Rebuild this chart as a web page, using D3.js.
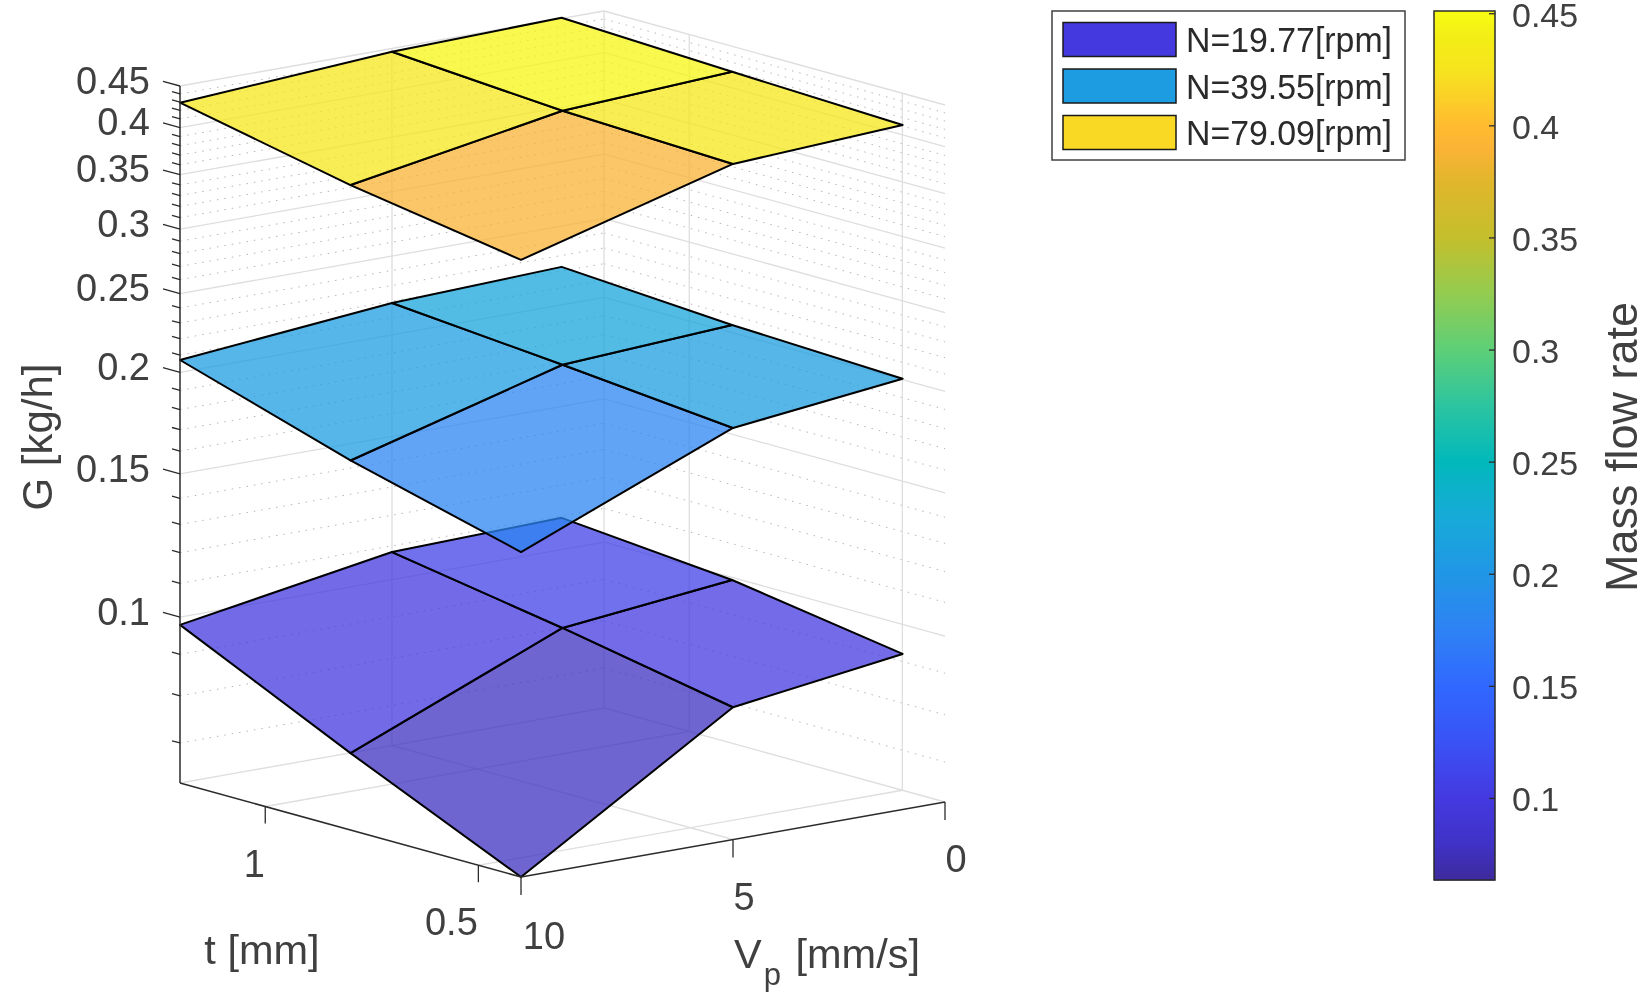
<!DOCTYPE html>
<html>
<head>
<meta charset="utf-8">
<script src="https://cdn.jsdelivr.net/npm/d3@7"></script>
<style>
  html, body { margin: 0; padding: 0; background: #fff; }
  svg { display: block; filter: blur(0.4px); }
  text { font-family: "Liberation Sans", Arial, sans-serif; fill: #404040; }
</style>
</head>
<body>
<script>
  var tValues = [0.4, 0.8, 1.2];
  var vpValues = [10, 5, 1];

  // G [kg/h], rows follow tValues, columns follow vpValues
  var gLow = [
    [0.0625, 0.0909, 0.0971],
    [0.0777, 0.0996, 0.1048],
    [0.0978, 0.1081, 0.1094]
  ];
  var gMid = [
    [0.1569, 0.2005, 0.2117],
    [0.1780, 0.2099, 0.2158],
    [0.2071, 0.2189, 0.2227]
  ];
  var gHigh = [
    [0.3589, 0.4235, 0.4343],
    [0.3883, 0.4309, 0.4421],
    [0.4292, 0.4458, 0.4510]
  ];
  var surfaces = [gLow, gMid, gHigh];

  var legendLabels = ["N=19.77[rpm]", "N=39.55[rpm]", "N=79.09[rpm]"];
  var legendValues = [0.0996, 0.2071, 0.418];

  var gMajor = [0.1, 0.15, 0.2, 0.25, 0.3, 0.35, 0.4, 0.45];
  var gMinor = [0.07, 0.08, 0.09, 0.11, 0.12, 0.13, 0.14, 0.16, 0.17, 0.18, 0.19,
    0.21, 0.22, 0.23, 0.24, 0.26, 0.27, 0.28, 0.29, 0.31, 0.32, 0.33, 0.34,
    0.36, 0.37, 0.38, 0.39, 0.41, 0.42, 0.43, 0.44];
  var tTicks = [0.5, 1];
  var vpTicks = [0, 5, 10];
  var colorbarTicks = [0.1, 0.15, 0.2, 0.25, 0.3, 0.35, 0.4, 0.45];

  var colorStops = [0.0625, 0.08, 0.1, 0.125, 0.15, 0.175, 0.2, 0.225, 0.25, 0.275, 0.3, 0.325, 0.35, 0.375, 0.39, 0.4, 0.425, 0.44, 0.451];
  var colorValues = ["#3e2a9a", "#3f32c6", "#4439e0", "#3a52f5", "#3068ff", "#2e82f4", "#2196e6", "#17aad8", "#02b8bc",
    "#2cc4a0", "#5dcf78", "#93cc50", "#c4bf2c", "#e0b62c", "#fcb335", "#ffbb30", "#f6e41e", "#f3ee15", "#f8fb14"];

  var color = d3.scaleLinear().domain(colorStops).range(colorValues);

  var width = 1651, height = 993;
  var svg = d3.select("body").append("svg")
    .attr("width", width)
    .attr("height", height);

  // box corners on the floor, oblique projection
  var front = [521, 877], tEdge = [-341, -94], vpEdge = [424, -75];
  var tPos = d3.scaleLinear().domain([0.4, 1.2]).range([0, 1]);
  var vpPos = d3.scaleLinear().domain([10, 0]).range([0, 1]);
  var gPos = d3.scaleLog().domain([0.0625, 0.45]).range([0, 697]);

  function project(t, vp, g){
    var a = tPos(t), b = vpPos(vp);
    return [
      front[0] + a * tEdge[0] + b * vpEdge[0],
      front[1] + a * tEdge[1] + b * vpEdge[1] - (g === undefined ? 0 : gPos(g))
    ];
  }

  function segment(sel, p, q, stroke, sw, dash){
    sel.append("line")
      .attr("x1", p[0]).attr("y1", p[1])
      .attr("x2", q[0]).attr("y2", q[1])
      .attr("stroke", stroke)
      .attr("stroke-width", sw)
      .attr("stroke-dasharray", dash || null);
  }

  function draw_grid(){
    var g = svg.append("g").attr("id", "grid");
    var solid = "#dedede", dots = "#b4b4b4";
    gMinor.forEach(function(v){
      segment(g, project(1.2, 10, v), project(1.2, 0, v), dots, 1, "1.5 6");
      segment(g, project(1.2, 0, v), project(0.4, 0, v), dots, 1, "1.5 6");
    });
    gMajor.forEach(function(v){
      segment(g, project(1.2, 10, v), project(1.2, 0, v), solid, 1.3);
      segment(g, project(1.2, 0, v), project(0.4, 0, v), solid, 1.3);
    });
    //floor lines and the verticals on the two back walls
    tTicks.forEach(function(t){
      segment(g, project(t, 10), project(t, 0), solid, 1.3);
      segment(g, project(t, 0), project(t, 0, 0.45), solid, 1.3);
    });
    segment(g, project(1.2, 0), project(1.2, 0, 0.45), solid, 1.3);
    segment(g, project(1.2, 5), project(0.4, 5), solid, 1.3);
    segment(g, project(1.2, 5), project(1.2, 5, 0.45), solid, 1.3);
    segment(g, project(1.2, 10), project(1.2, 0), solid, 1.3);
    segment(g, project(1.2, 0), project(0.4, 0), solid, 1.3);
  }

  function draw_surface(rows){
    var g = svg.append("g").attr("class", "surface");
    var cells = [];
    for(var i = 0; i < tValues.length - 1; i++){
      for(var j = 0; j < vpValues.length - 1; j++){
        cells.push({i: i, j: j});
      }
    }
    g.selectAll("path")
      .data(cells)
      .enter().append("path")
      .attr("d", function(d){
        var pts = [[d.i, d.j], [d.i + 1, d.j], [d.i + 1, d.j + 1], [d.i, d.j + 1]];
        return d3.line()(pts.map(function(c){
          return project(tValues[c[0]], vpValues[c[1]], rows[c[0]][c[1]]);
        })) + "Z";
      })
      //flat shading takes the colour of one corner of each facet
      .attr("fill", function(d){ return color(rows[d.i + 1][d.j]); })
      .attr("fill-opacity", 0.75)
      .attr("stroke", "#000")
      .attr("stroke-width", 2)
      .attr("stroke-linejoin", "round");
  }

  function draw_axes(){
    var g = svg.append("g").attr("id", "axes");
    var ink = "#2b2b2b";
    segment(g, project(1.2, 10), project(0.4, 10), ink, 1.5);
    segment(g, project(0.4, 10), project(0.4, 0), ink, 1.5);
    segment(g, project(1.2, 10), project(1.2, 10, 0.45), ink, 1.5);

    gMajor.forEach(function(v){
      var p = project(1.2, 10, v);
      segment(g, p, [p[0] - 17, p[1] - 4.7], ink, 1.3);
      g.append("text")
        .attr("x", p[0] - 30)
        .attr("y", p[1] - 6)
        .attr("dy", "0.36em")
        .attr("text-anchor", "end")
        .attr("font-size", 38)
        .text(v);
    });
    gMinor.forEach(function(v){
      var p = project(1.2, 10, v);
      segment(g, p, [p[0] - 8, p[1] - 2.2], ink, 1.3);
    });

    tTicks.forEach(function(t){
      var p = project(t, 10);
      segment(g, p, [p[0], p[1] + 17], ink, 1.3);
      g.append("text")
        .attr("x", p[0] + (t === 1 ? -11 : -27))
        .attr("y", p[1] + 70)
        .attr("text-anchor", "middle")
        .attr("font-size", 38)
        .text(t);
    });
    vpTicks.forEach(function(v){
      var p = project(0.4, v);
      segment(g, p, [p[0], p[1] + 18], ink, 1.3);
      g.append("text")
        .attr("x", p[0] + (v === 10 ? 23 : 11))
        .attr("y", p[1] + (v === 10 ? 72 : 70))
        .attr("text-anchor", "middle")
        .attr("font-size", 38)
        .text(v);
    });

    g.append("text")
      .attr("x", 262).attr("y", 964)
      .attr("text-anchor", "middle")
      .attr("font-size", 41.5)
      .text("t [mm]");

    var vp = g.append("text")
      .attr("x", 734).attr("y", 968)
      .attr("font-size", 41.5);
    vp.append("tspan").text("V");
    vp.append("tspan").attr("dx", 2).attr("dy", 17).attr("font-size", 31).text("p");
    vp.append("tspan").attr("dy", -17).attr("dx", 3).text(" [mm/s]");

    g.append("text")
      .attr("transform", "translate(52,437) rotate(-90)")
      .attr("text-anchor", "middle")
      .attr("font-size", 42)
      .text("G [kg/h]");
  }

  function draw_legend(){
    var g = svg.append("g").attr("id", "legend");
    g.append("rect")
      .attr("x", 1052).attr("y", 11)
      .attr("width", 353).attr("height", 149)
      .attr("fill", "#fff")
      .attr("stroke", "#404040")
      .attr("stroke-width", 1.5);

    var rowY = d3.scalePoint().domain(legendLabels).range([39.5, 132.5]);
    var row = g.selectAll("g")
      .data(legendLabels)
      .enter().append("g")
      .attr("transform", function(d){ return "translate(1063," + rowY(d) + ")"; });
    row.append("rect")
      .attr("y", -17)
      .attr("width", 113).attr("height", 34)
      .attr("fill", function(d, i){ return color(legendValues[i]); })
      .attr("stroke", "#1a1a1a")
      .attr("stroke-width", 1.5);
    row.append("text")
      .attr("x", 123)
      .attr("dy", "0.36em")
      .attr("font-size", 35)
      .attr("textLength", 206)
      .attr("lengthAdjust", "spacingAndGlyphs")
      .style("fill", "#2a2a2a")
      .text(function(d){ return d; });
  }

  function draw_colorbar(){
    var x0 = 1434, x1 = 1495;
    var y = d3.scaleLinear().domain([0.0634, 0.451]).range([880, 11]);
    var g = svg.append("g").attr("id", "colorbar");

    g.selectAll("rect")
      .data(d3.range(y.range()[1], y.range()[0]))
      .enter().append("rect")
      .attr("x", x0)
      .attr("y", function(d){ return d; })
      .attr("width", x1 - x0)
      .attr("height", 1.5)
      .attr("fill", function(d){ return color(y.invert(d)); });

    g.append("rect")
      .attr("x", x0).attr("y", 11)
      .attr("width", x1 - x0).attr("height", 869)
      .attr("fill", "none")
      .attr("stroke", "#2b2b2b")
      .attr("stroke-width", 1.5);

    var axis = d3.axisRight(y)
      .tickValues(colorbarTicks)
      .tickFormat(String)
      .tickSize(-6)
      .tickPadding(17);
    var a = g.append("g")
      .attr("transform", "translate(" + x1 + ",0)")
      .call(axis);
    a.select(".domain").remove();
    a.selectAll("line").attr("stroke", "#2b2b2b").attr("stroke-width", 1.3);
    a.selectAll("text")
      .attr("y", 2)
      .attr("font-size", 34)
      .attr("font-family", null)
      .attr("fill", "#404040");

    g.append("text")
      .attr("transform", "translate(1637,447) rotate(-90)")
      .attr("text-anchor", "middle")
      .attr("font-size", 45)
      .text("Mass flow rate");
  }

  draw_grid();
  surfaces.forEach(draw_surface);
  draw_axes();
  draw_legend();
  draw_colorbar();
</script>
</body>
</html>
